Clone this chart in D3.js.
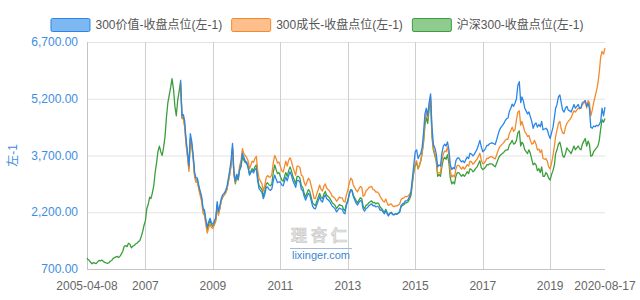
<!DOCTYPE html>
<html><head><meta charset="utf-8">
<script src="https://cdn.jsdelivr.net/npm/d3@7"></script>
<style>html,body{margin:0;padding:0;background:#fff;}svg{display:block;font-family:"Liberation Sans",Arial,"Noto Sans CJK SC",sans-serif;}</style>
</head><body><svg id="chart" width="640" height="300"></svg>
<script>
const dates = [
"2005-04-08","2005-04-16","2005-05-01","2005-05-16","2005-06-01","2005-06-16","2005-07-01","2005-07-16","2005-08-01","2005-08-16","2005-09-01","2005-09-16","2005-10-01","2005-10-16","2005-11-01","2005-11-16","2005-12-01","2005-12-16",
"2006-01-01","2006-01-16","2006-02-01","2006-02-16","2006-03-01","2006-03-16","2006-04-01","2006-04-16","2006-05-01","2006-05-16","2006-06-01","2006-06-16","2006-07-01","2006-07-16","2006-08-01","2006-08-16","2006-09-01","2006-09-16","2006-10-01","2006-10-16","2006-11-01","2006-11-16","2006-12-01","2006-12-16",
"2007-01-01","2007-01-16","2007-02-01","2007-02-16","2007-03-01","2007-03-16","2007-04-01","2007-04-16","2007-05-01","2007-05-16","2007-06-01","2007-06-16","2007-07-01","2007-07-16","2007-08-01","2007-08-16","2007-09-01","2007-09-16","2007-10-01","2007-10-16","2007-11-01","2007-11-16","2007-12-01","2007-12-16",
"2008-01-01","2008-01-16","2008-02-01","2008-02-16","2008-03-01","2008-03-16","2008-04-01","2008-04-16","2008-05-01","2008-05-16","2008-06-01","2008-06-16","2008-07-01","2008-07-16","2008-08-01","2008-08-16","2008-09-01","2008-09-16","2008-10-01","2008-10-16","2008-11-01","2008-11-16","2008-12-01","2008-12-16",
"2009-01-01","2009-01-16","2009-02-01","2009-02-16","2009-03-01","2009-03-16","2009-04-01","2009-04-16","2009-05-01","2009-05-16","2009-06-01","2009-06-16","2009-07-01","2009-07-16","2009-08-01","2009-08-16","2009-09-01","2009-09-16","2009-10-01","2009-10-16","2009-11-01","2009-11-16","2009-12-01","2009-12-16",
"2010-01-01","2010-01-16","2010-02-01","2010-02-16","2010-03-01","2010-03-16","2010-04-01","2010-04-16","2010-05-01","2010-05-16","2010-06-01","2010-06-16","2010-07-01","2010-07-16","2010-08-01","2010-08-16","2010-09-01","2010-09-16","2010-10-01","2010-10-16","2010-11-01","2010-11-16","2010-12-01","2010-12-16",
"2011-01-01","2011-01-16","2011-02-01","2011-02-16","2011-03-01","2011-03-16","2011-04-01","2011-04-16","2011-05-01","2011-05-16","2011-06-01","2011-06-16","2011-07-01","2011-07-16","2011-08-01","2011-08-16","2011-09-01","2011-09-16","2011-10-01","2011-10-16","2011-11-01","2011-11-16","2011-12-01","2011-12-16",
"2012-01-01","2012-01-16","2012-02-01","2012-02-16","2012-03-01","2012-03-16","2012-04-01","2012-04-16","2012-05-01","2012-05-16","2012-06-01","2012-06-16","2012-07-01","2012-07-16","2012-08-01","2012-08-16","2012-09-01","2012-09-16","2012-10-01","2012-10-16","2012-11-01","2012-11-16","2012-12-01","2012-12-16",
"2013-01-01","2013-01-16","2013-02-01","2013-02-16","2013-03-01","2013-03-16","2013-04-01","2013-04-16","2013-05-01","2013-05-16","2013-06-01","2013-06-16","2013-07-01","2013-07-16","2013-08-01","2013-08-16","2013-09-01","2013-09-16","2013-10-01","2013-10-16","2013-11-01","2013-11-16","2013-12-01","2013-12-16",
"2014-01-01","2014-01-16","2014-02-01","2014-02-16","2014-03-01","2014-03-16","2014-04-01","2014-04-16","2014-05-01","2014-05-16","2014-06-01","2014-06-16","2014-07-01","2014-07-16","2014-08-01","2014-08-16","2014-09-01","2014-09-16","2014-10-01","2014-10-16","2014-11-01","2014-11-16","2014-12-01","2014-12-16",
"2015-01-01","2015-01-16","2015-02-01","2015-02-16","2015-03-01","2015-03-16","2015-04-01","2015-04-16","2015-05-01","2015-05-16","2015-06-01","2015-06-16","2015-07-01","2015-07-16","2015-08-01","2015-08-16","2015-09-01","2015-09-16","2015-10-01","2015-10-16","2015-11-01","2015-11-16","2015-12-01","2015-12-16",
"2016-01-01","2016-01-16","2016-02-01","2016-02-16","2016-03-01","2016-03-16","2016-04-01","2016-04-16","2016-05-01","2016-05-16","2016-06-01","2016-06-16","2016-07-01","2016-07-16","2016-08-01","2016-08-16","2016-09-01","2016-09-16","2016-10-01","2016-10-16","2016-11-01","2016-11-16","2016-12-01","2016-12-16",
"2017-01-01","2017-01-16","2017-02-01","2017-02-16","2017-03-01","2017-03-16","2017-04-01","2017-04-16","2017-05-01","2017-05-16","2017-06-01","2017-06-16","2017-07-01","2017-07-16","2017-08-01","2017-08-16","2017-09-01","2017-09-16","2017-10-01","2017-10-16","2017-11-01","2017-11-16","2017-12-01","2017-12-16",
"2018-01-01","2018-01-16","2018-02-01","2018-02-16","2018-03-01","2018-03-16","2018-04-01","2018-04-16","2018-05-01","2018-05-16","2018-06-01","2018-06-16","2018-07-01","2018-07-16","2018-08-01","2018-08-16","2018-09-01","2018-09-16","2018-10-01","2018-10-16","2018-11-01","2018-11-16","2018-12-01","2018-12-16",
"2019-01-01","2019-01-16","2019-02-01","2019-02-16","2019-03-01","2019-03-16","2019-04-01","2019-04-16","2019-05-01","2019-05-16","2019-06-01","2019-06-16","2019-07-01","2019-07-16","2019-08-01","2019-08-16","2019-09-01","2019-09-16","2019-10-01","2019-10-16","2019-11-01","2019-11-16","2019-12-01","2019-12-16",
"2020-01-01","2020-01-16","2020-02-01","2020-02-16","2020-03-01","2020-03-16","2020-04-01","2020-04-16","2020-05-01","2020-05-16","2020-06-01","2020-06-16","2020-07-01","2020-07-16","2020-08-01","2020-08-17"
];

// 沪深300 (from 2005-04-08)
const hs300 = [
985,960,930,880,840,870,855,840,890,925,915,935,905,875,860,850,865,905,
925,980,1000,1020,1035,1000,1040,1100,1170,1300,1320,1290,1380,1360,1260,1300,1320,1360,1380,1420,1450,1560,1680,1850,
1980,2300,2420,2600,2560,2700,2900,3250,3500,3800,3950,3800,3700,3900,4200,4700,5100,5300,5500,5730,5450,5000,4750,5150,
5400,5650,4700,4700,4500,4050,3700,3350,4150,4000,3650,3200,3050,3050,2850,2700,2550,2250,2200,1950,1730,1880,1980,1860,
1820,1900,2000,2400,2150,2300,2500,2600,2650,2700,2800,3000,3200,3450,3880,3200,2950,3150,3050,3300,3400,3670,3580,3520,
3500,3400,3200,3280,3350,3300,3400,3450,3100,2900,2850,2800,2620,2750,2950,2980,2920,2900,2950,3250,3450,3330,3220,3250,
3150,3050,3020,3150,3250,3150,3300,3400,3300,3150,3050,2950,3150,3150,3100,2900,2850,2700,2600,2700,2800,2750,2600,2450,
2400,2380,2500,2600,2700,2600,2560,2680,2750,2650,2620,2580,2520,2450,2420,2380,2300,2350,2400,2380,2370,2280,2240,2420,
2520,2680,2800,2780,2650,2580,2500,2450,2520,2580,2560,2350,2300,2380,2400,2450,2480,2500,2450,2460,2420,2450,2430,2340,
2300,2250,2200,2280,2200,2120,2180,2200,2150,2140,2160,2150,2170,2200,2350,2380,2400,2450,2450,2480,2550,2650,2950,3250,
3450,3500,3350,3450,3550,3750,4050,4500,4700,4550,4950,5150,4200,3850,3700,3550,3150,3200,3150,3400,3600,3650,3600,3720,
3500,3100,2950,3000,2950,3150,3250,3250,3200,3150,3200,3150,3200,3270,3220,3350,3330,3270,3300,3360,3400,3480,3560,3380,
3330,3350,3400,3460,3450,3480,3480,3470,3430,3400,3500,3600,3680,3720,3750,3780,3830,3850,3850,3980,4030,4100,4000,4020,
4100,4300,4350,3950,4050,4000,3850,3800,3750,3850,3750,3600,3450,3500,3450,3300,3350,3250,3400,3150,3150,3250,3200,3100,
3050,3200,3300,3450,3750,3850,4000,4050,3900,3700,3650,3750,3900,3850,3800,3750,3850,3950,3850,3900,3950,3880,3850,4000,
4080,4150,3950,4080,4000,3680,3700,3800,3850,3900,3950,4100,4400,4650,4580,4680
];

// 300价值 and 300成长 start on this date
const styleStart = "2008-01-16";
const value300 = [
5700,4750,4780,4600,4130,3780,3420,4280,4080,3720,3260,3110,3110,2900,2760,2610,2300,2260,2010,1800,1950,2040,1920,
1880,1970,2060,2480,2220,2370,2560,2660,2700,2760,2870,3080,3300,3560,4020,3300,3020,3200,3080,3320,3450,3760,3660,3560,
3520,3400,3180,3250,3300,3240,3330,3360,3020,2820,2770,2720,2560,2670,2850,2870,2800,2780,2820,3030,3180,3080,2980,3000,
3000,2920,2900,3030,3130,3030,3170,3270,3180,3040,2950,2860,3040,3040,3000,2810,2770,2620,2520,2610,2700,2650,2510,2360,
2300,2290,2410,2510,2610,2510,2470,2590,2660,2560,2530,2490,2430,2360,2330,2290,2210,2260,2310,2290,2280,2190,2160,2380,
2490,2660,2790,2760,2620,2530,2440,2390,2460,2510,2490,2280,2230,2300,2320,2370,2400,2420,2370,2380,2340,2360,2340,2250,
2260,2210,2160,2240,2170,2100,2170,2190,2140,2130,2160,2150,2180,2220,2380,2420,2440,2500,2500,2540,2620,2740,3100,3450,
3800,3850,3620,3700,3750,3900,4300,4800,4950,4750,5100,5330,4450,4000,3900,3750,3400,3450,3420,3750,3950,4000,3950,4060,
3850,3450,3330,3380,3350,3560,3630,3640,3580,3530,3560,3510,3590,3660,3620,3760,3740,3690,3730,3800,3870,3980,4100,3930,
3800,3830,3890,3970,3970,4010,4030,4030,4010,3990,4120,4250,4370,4440,4490,4540,4620,4670,4690,4860,4950,5060,5000,5080,
5200,5550,5650,5100,5250,5150,4950,4880,4800,4850,4720,4600,4420,4520,4560,4450,4520,4460,4600,4380,4400,4420,4380,4250,
4150,4300,4450,4700,4950,5050,5250,5300,5100,4900,4850,4950,5000,4900,4880,4850,4950,5050,4950,5000,5050,4950,4950,5100,
5120,5150,5000,5080,4950,4450,4420,4480,4460,4500,4480,4520,4600,4950,4750,4980
];
const growth300 = [
5600,4680,4650,4450,3980,3650,3280,4100,3950,3600,3140,2990,3000,2800,2640,2480,2170,2120,1870,1650,1790,1900,1790,
1770,1860,1960,2380,2120,2280,2500,2600,2660,2710,2800,2990,3180,3420,3900,3200,2980,3200,3120,3420,3560,3880,3760,3700,
3650,3560,3350,3450,3550,3520,3620,3680,3300,3080,3020,2950,2760,2900,3120,3170,3130,3130,3200,3500,3700,3620,3500,3530,
3420,3300,3260,3420,3550,3420,3580,3640,3550,3400,3280,3180,3420,3420,3380,3180,3150,2990,2900,3000,3100,3050,2900,2750,
2570,2560,2700,2800,2920,2810,2760,2880,2950,2840,2800,2760,2700,2620,2600,2560,2490,2540,2600,2580,2580,2490,2470,2660,
2780,2960,3100,3060,2920,2850,2780,2740,2820,2880,2860,2620,2650,2760,2800,2850,2870,2880,2800,2790,2730,2740,2700,2620,
2560,2500,2470,2550,2460,2380,2410,2420,2370,2350,2370,2370,2390,2420,2540,2570,2580,2620,2610,2630,2680,2750,3020,3300,
3500,3560,3350,3450,3550,3780,4100,4600,4850,4700,5050,5250,4300,3900,3750,3600,3230,3250,3230,3550,3750,3820,3800,3920,
3700,3280,3130,3180,3130,3340,3440,3440,3390,3340,3400,3340,3390,3460,3420,3550,3530,3470,3500,3560,3600,3680,3760,3580,
3480,3500,3560,3630,3620,3660,3670,3660,3630,3610,3720,3830,3920,3960,4000,4040,4100,4130,4130,4280,4360,4450,4340,4380,
4650,4850,4880,4500,4600,4480,4330,4280,4200,4230,4100,4000,4020,4100,4000,3850,3870,3780,3850,3620,3600,3620,3550,3400,
3350,3500,3700,3950,4200,4380,4550,4600,4400,4300,4280,4450,4550,4600,4650,4700,4800,4880,4850,4900,4950,4930,4960,5050,
5080,5150,4950,5150,5100,4750,4900,5100,5250,5400,5600,5900,6300,6450,6380,6540
];

const seriesNames = ["300价值-收盘点位(左-1)","300成长-收盘点位(左-1)","沪深300-收盘点位(左-1)"];
const yTicks = [700, 2200, 3700, 5200, 6700];
const xTickDates = ["2005-04-08","2007-01-01","2009-01-01","2011-01-01","2013-01-01","2015-01-01","2017-01-01","2019-01-01","2020-08-17"];
const xTickLabels = ["2005-04-08","2007","2009","2011","2013","2015","2017","2019","2020-08-17"];
const yAxisTitle = "左-1";

const parse = d3.timeParse("%Y-%m-%d");
const svg = d3.select("#chart");
const L = 87, R = 605, T = 42, B = 269;
const x = d3.scaleTime().domain([parse(dates[0]), parse(dates[dates.length-1])]).range([L, R]);
const y = d3.scaleLinear().domain([700, 6700]).range([B, T]);

svg.append("rect").attr("width",640).attr("height",300).attr("fill","#fff");

// horizontal grid
svg.append("g").selectAll("line").data(yTicks).join("line")
  .attr("x1", L).attr("x2", R).attr("y1", d=>y(d)+0.5).attr("y2", d=>y(d)+0.5)
  .attr("stroke", "#e3e3e3").attr("stroke-width", 1);

// vertical grid
svg.append("g").selectAll("line").data(xTickDates.slice(1, -1)).join("line")
  .attr("x1", d=>Math.round(x(parse(d)))+0.5).attr("x2", d=>Math.round(x(parse(d)))+0.5)
  .attr("y1", T).attr("y2", B)
  .attr("stroke", "#cfcfcf").attr("stroke-width", 1);

// axis lines
svg.append("line").attr("x1", L+0.5).attr("x2", L+0.5).attr("y1", T).attr("y2", B+0.5).attr("stroke","#c4c4c4");
svg.append("line").attr("x1", L).attr("x2", R).attr("y1", B+0.5).attr("y2", B+0.5).attr("stroke","#c4c4c4");

// y labels
const fmt = d3.format(",.2f");
svg.append("g").selectAll("text").data(yTicks).join("text")
  .attr("x", 78).attr("y", d=>y(d)).attr("dy","0.35em").attr("text-anchor","end")
  .attr("fill","#3d8ee2").attr("font-size",12).text(d=>fmt(d));

svg.append("text").attr("transform", `translate(13,${(T+B)/2}) rotate(-90)`)
  .attr("text-anchor","middle").attr("dy","0.35em").attr("fill","#3d8ee2").attr("font-size",12).text(yAxisTitle);

// x labels
svg.append("g").selectAll("text").data(xTickDates).join("text")
  .attr("x", d=>x(parse(d))).attr("y", 290).attr("text-anchor","middle")
  .attr("fill","#666").attr("font-size",12).text((d,i)=>xTickLabels[i]);

// watermark
const wm = svg.append("g");
wm.append("text").attr("x", 321).attr("y", 241).attr("text-anchor","middle")
  .attr("font-size",16).attr("font-weight","bold").attr("letter-spacing",4)
  .attr("fill","#e4e4e4").attr("stroke","#c4c4c4").attr("stroke-width",0.6).text("理杏仁");
wm.append("line").attr("x1",290).attr("x2",352).attr("y1",248.5).attr("y2",248.5).attr("stroke","#9dbbe0").attr("stroke-width",1);
wm.append("text").attr("x", 321).attr("y", 259).attr("text-anchor","middle")
  .attr("font-size",11).attr("fill","#3f86d0").text("lixinger.com");

// lines
const k = dates.indexOf(styleStart);
const greenData = dates.map((d,i)=>({date: parse(d), v: hs300[i]}));
const blueData = value300.map((v,i)=>({date: parse(dates[k+i]), v}));
const orangeData = growth300.map((v,i)=>({date: parse(dates[k+i]), v}));
const line = d3.line().x(d=>x(d.date)).y(d=>y(d.v));
const colors = ["#2a86e8", "#f48a2e", "#3c9e3c"];
const fills = ["#7db8f2", "#ffbf8c", "#8fcb8f"];
svg.append("path").datum(greenData).attr("d", line).attr("fill","none").attr("stroke",colors[2]).attr("stroke-width",1.3).attr("stroke-linejoin","round");
svg.append("path").datum(orangeData).attr("d", line).attr("fill","none").attr("stroke",colors[1]).attr("stroke-width",1.3).attr("stroke-linejoin","round");
svg.append("path").datum(blueData).attr("d", line).attr("fill","none").attr("stroke",colors[0]).attr("stroke-width",1.3).attr("stroke-linejoin","round");

// legend
const lg = svg.append("g");
const items = seriesNames.map((name,i)=>{
  const g = lg.append("g");
  g.append("rect").attr("x",0.5).attr("y",18.5).attr("width",39).attr("height",13).attr("rx",1.5)
    .attr("fill",fills[i]).attr("stroke",colors[i]).attr("stroke-width",1);
  const t = g.append("text").attr("x",45).attr("y",25).attr("dy","0.35em")
    .attr("fill","#555").attr("font-size",12).text(name);
  return {g, w: 45 + t.node().getComputedTextLength()};
});
const gap = 9;
const total = d3.sum(items, d=>d.w) + gap*(items.length-1);
let cx = 317 - total/2;
items.forEach(it=>{ it.g.attr("transform",`translate(${cx},0)`); cx += it.w + gap; });
</script></body></html>
